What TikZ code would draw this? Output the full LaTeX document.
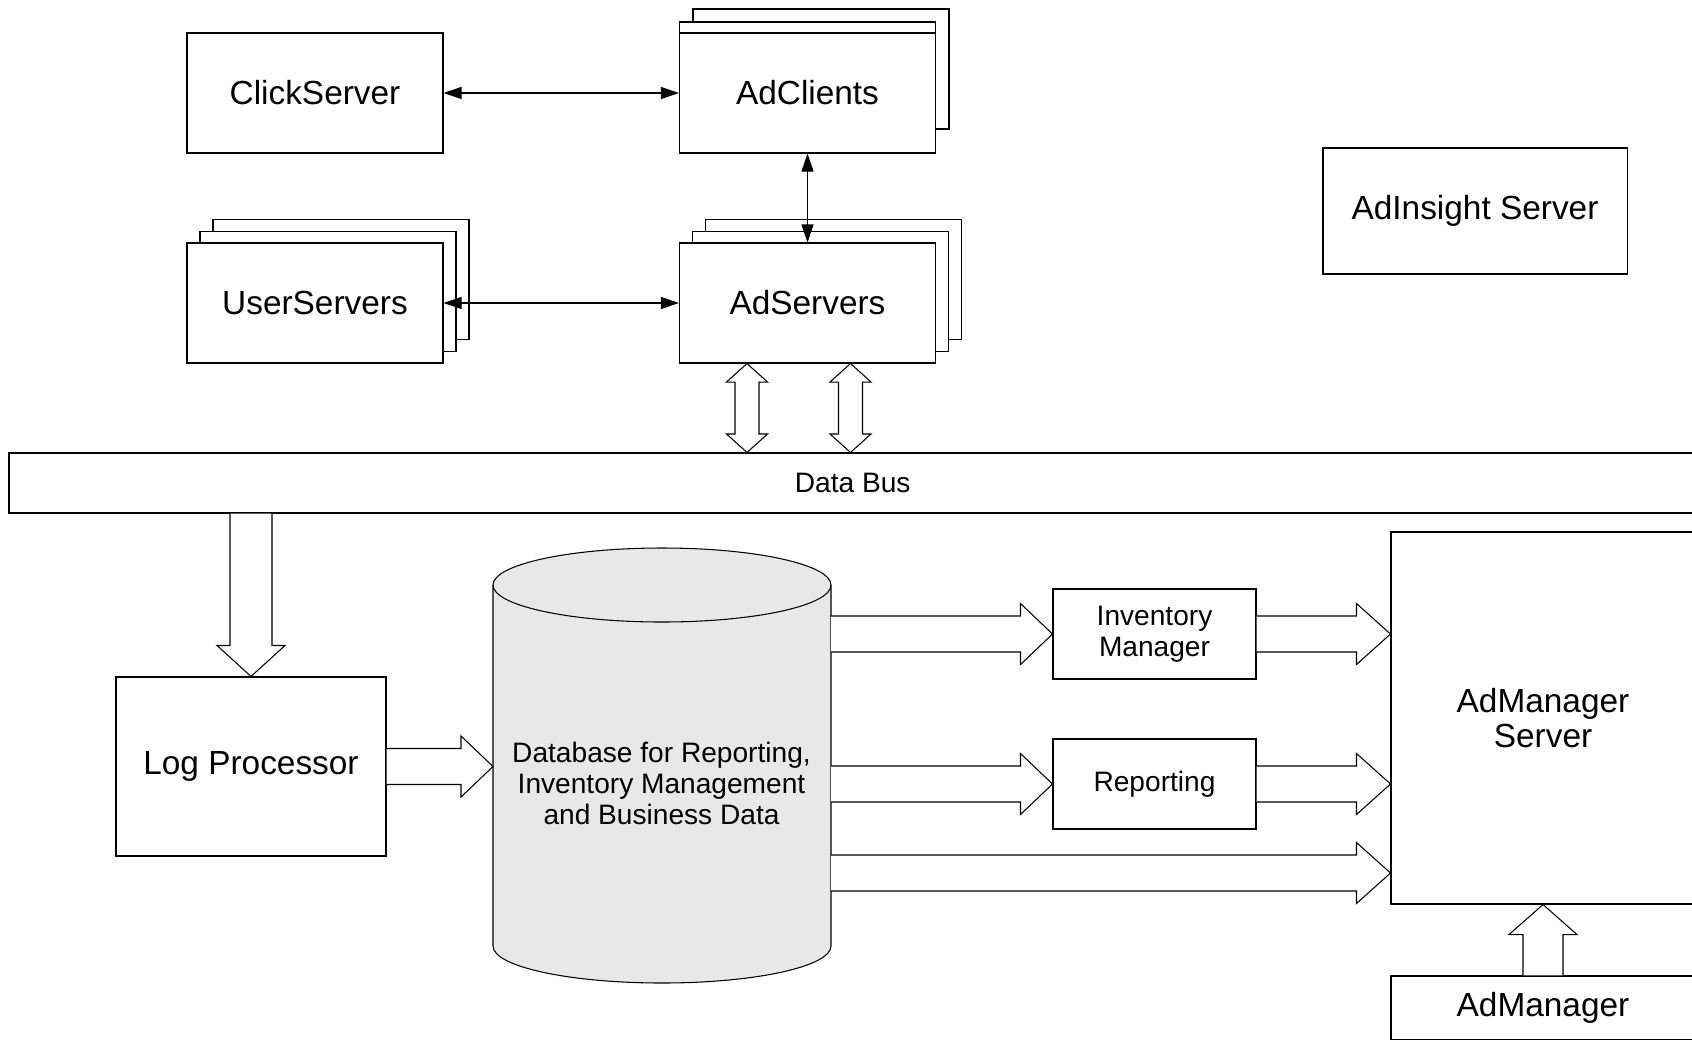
\documentclass[tikz,border=0pt]{standalone}
\usepackage{fontspec}
\setmainfont{Liberation Sans}
\usetikzlibrary{calc,shadows,arrows.meta}

\newcommand{\bigfont}{\fontsize{19}{20.2}\selectfont}
\newcommand{\smallfont}{\fontsize{16}{17.5}\selectfont}

% hollow block arrow: from, to, half shaft, half head, head length
\newcommand{\fatarrow}[5]{%
  \coordinate (h) at ($(#2)!#5!(#1)$);
  \draw[fat] ($(#1)!#3!90:(#2)$) -- ($(h)!#3!-90:(#1)$) -- ($(h)!#4!-90:(#1)$) -- (#2)
    -- ($(h)!#4!90:(#1)$) -- ($(h)!#3!90:(#1)$) -- ($(#1)!#3!-90:(#2)$);}
% same, with a head at both ends
\newcommand{\fatdarrow}[5]{%
  \coordinate (h1) at ($(#1)!#5!(#2)$);
  \coordinate (h2) at ($(#2)!#5!(#1)$);
  \draw[fat] (#1) -- ($(h1)!#4!90:(#2)$) -- ($(h1)!#3!90:(#2)$) -- ($(h2)!#3!-90:(#1)$)
    -- ($(h2)!#4!-90:(#1)$) -- (#2) -- ($(h2)!#4!90:(#1)$) -- ($(h2)!#3!90:(#1)$)
    -- ($(h1)!#3!-90:(#2)$) -- ($(h1)!#4!-90:(#2)$) -- cycle;}

\begin{document}
\begin{tikzpicture}[line width=0.6pt,
    box/.style={draw, fill=white, minimum width=5.12cm, minimum height=2.4cm, font=\bigfont},
    smallbox/.style={draw, fill=white, minimum width=4.06cm, minimum height=1.8cm, align=center, font=\smallfont},
    stack/.style={copy shadow={shadow xshift=0.52cm, shadow yshift=0.47cm, fill=white, draw},
      copy shadow={shadow xshift=0.26cm, shadow yshift=0.23cm, fill=white, draw}},
    link/.style={{Triangle[length=0.36cm,width=0.24cm]}-{Triangle[length=0.36cm,width=0.24cm]}},
    fat/.style={fill=white, line join=miter}]
  \useasboundingbox (0,0) rectangle (33.84,-20.78);

  \node[box] (click) at (6.30,-1.86) {ClickServer};
  \node[box, copy shadow={shadow xshift=0.27cm, shadow yshift=0.48cm, fill=white, draw},
    copy shadow={shadow xshift=0cm, shadow yshift=0.22cm, fill=white, draw}]
    (adclients) at (16.15,-1.86) {AdClients};
  \node[box, stack] (users) at (6.30,-6.06) {UserServers};
  \node[box, stack] (adservers) at (16.15,-6.06) {AdServers};
  \node[box, minimum width=6.08cm, minimum height=2.52cm] (insight) at (29.50,-4.22) {AdInsight Server};

  \node[draw, minimum width=33.75cm, minimum height=1.2cm, font=\smallfont] (bus) at (17.055,-9.66) {Data Bus};

  \node[box, minimum width=5.4cm, minimum height=3.58cm] (log) at (5.02,-15.33) {Log Processor};

  % database cylinder
  \node[minimum width=6.76cm, minimum height=8.7cm, outer sep=0pt] (db) at (13.24,-15.31) {};
  \draw[fill=black!9] ([yshift=-0.74cm]db.north west) -- ([yshift=0.74cm]db.south west)
    arc[start angle=180, end angle=360, x radius=3.38cm, y radius=0.74cm]
    -- ([yshift=-0.74cm]db.north east)
    arc[start angle=0, end angle=180, x radius=3.38cm, y radius=0.74cm] -- cycle;
  \draw ([yshift=-0.74cm]db.north west) arc[start angle=180, end angle=360, x radius=3.38cm, y radius=0.74cm];
  \node[align=center, font=\smallfont] (dbtext) at (13.23,-15.67)
    {Database for Reporting,\\Inventory Management\\and Business Data};

  \node[smallbox] (inv) at (23.09,-12.68) {Inventory\\Manager};
  \node[smallbox] (rep) at (23.09,-15.68) {Reporting};

  \node[box, minimum width=6.08cm, minimum height=7.44cm, align=center] (server) at (30.86,-14.36) {AdManager\\Server};
  \node[box, minimum width=6.08cm, minimum height=1.28cm] (admanager) at (30.86,-20.16) {AdManager};

  % thin links
  \draw[link] (click) -- (adclients);
  \draw[link] (users) -- (adservers);
  \draw[link] (adclients) -- (adservers);

  % block arrows
  \coordinate (as1) at ([xshift=-1.21cm]adservers.south);
  \coordinate (as2) at ([xshift=0.86cm]adservers.south);
  \fatdarrow{as1}{as1 |- bus.north}{0.24cm}{0.41cm}{0.37cm}
  \fatdarrow{as2}{as2 |- bus.north}{0.24cm}{0.41cm}{0.37cm}
  \fatarrow{log |- bus.south}{log.north}{0.42cm}{0.68cm}{0.62cm}
  \fatarrow{log.east}{log.east -| db.west}{0.36cm}{0.61cm}{0.64cm}
  \fatarrow{inv -| db.east}{inv.west}{0.36cm}{0.61cm}{0.64cm}
  \fatarrow{rep -| db.east}{rep.west}{0.36cm}{0.61cm}{0.64cm}
  \fatarrow{inv.east}{inv -| server.west}{0.36cm}{0.61cm}{0.68cm}
  \fatarrow{rep.east}{rep -| server.west}{0.36cm}{0.61cm}{0.68cm}
  \coordinate (direct) at (db.east |- 0,-17.46);
  \fatarrow{direct}{direct -| server.west}{0.36cm}{0.61cm}{0.68cm}
  \fatarrow{admanager.north}{server.south}{0.40cm}{0.68cm}{0.60cm}
\end{tikzpicture}
\end{document}
